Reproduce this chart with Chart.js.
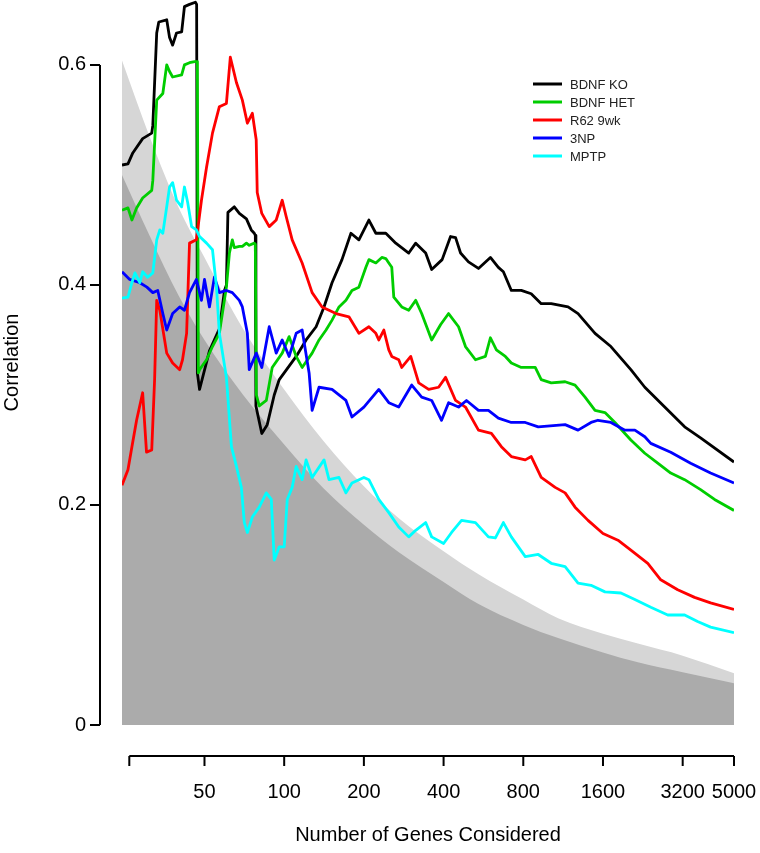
<!DOCTYPE html>
<html>
<head>
<meta charset="utf-8">
<script src="https://cdn.jsdelivr.net/npm/chart.js@4/dist/chart.umd.min.js"></script>
<style>
  html, body { margin: 0; padding: 0; background: #fff; }
  #wrap { width: 760px; height: 853px; position: relative; }
</style>
</head>
<body>
<div id="wrap"><canvas id="myChart"></canvas></div>
<script>
// axis ticks
var xTicks = [26, 50, 100, 200, 400, 800, 1600, 3200, 5000];
var xTickLabels = ["", "50", "100", "200", "400", "800", "1600", "3200", "5000"];
var yTicks = [0, 0.2, 0.4, 0.6];
var yTickLabels = ["0", "0.2", "0.4", "0.6"];

// null bands (genes, correlation)
var bandGenes = [24.4, 31, 40, 50, 70, 100, 141, 200, 271, 400, 542, 800, 1083, 1600, 2167, 3200, 5000];
var lightBand = [0.604, 0.535, 0.47, 0.425, 0.36, 0.305, 0.258, 0.217, 0.188, 0.158, 0.137, 0.114, 0.097, 0.083, 0.074, 0.063, 0.047];
var darkBand = [0.50, 0.445, 0.39, 0.35, 0.30, 0.255, 0.215, 0.182, 0.157, 0.13, 0.11, 0.091, 0.079, 0.066, 0.057, 0.048, 0.038];

// series: [genes considered, correlation]
var seriesNames = ["BDNF KO", "BDNF HET", "R62 9wk", "3NP", "MPTP"];
var seriesColors = ["#000000", "#00cd00", "#ff0000", "#0000ff", "#00ffff"];

var bdnfKO = [[24.4,0.509],[25.7,0.51],[26.8,0.52],[29.2,0.533],[31.6,0.538],[31.9,0.545],[33,0.629],[33.6,0.639],
  [36,0.641],[36.9,0.625],[37.9,0.618],[39.2,0.629],[41,0.63],[42,0.653],[43.9,0.655],[46.2,0.657],[46.7,0.655],
  [47,0.32],[47.9,0.305],[52.2,0.34],[56.9,0.36],[59.5,0.395],[60.5,0.40],[61.3,0.466],[64.8,0.471],[67.7,0.465],
  [72,0.46],[75.1,0.45],[77.1,0.447],[77.8,0.445],[78.2,0.29],[82.3,0.265],[86.3,0.273],[91.7,0.30],[95.8,0.314],
  [111,0.335],[121,0.35],[132,0.362],[141.4,0.38],[151.6,0.402],[165.3,0.423],[178.7,0.447],[191.5,0.441],
  [208.9,0.459],[221.9,0.447],[242,0.447],[263.9,0.438],[295.4,0.429],[313.9,0.438],[342.3,0.429],[360.6,0.414],
  [395,0.423],[425,0.444],[444,0.443],[463.6,0.429],[496.7,0.421],[541.7,0.415],[601,0.425],[644,0.416],
  [672.8,0.412],[721,0.395],[786,0.395],[857,0.392],[935,0.383],[1020,0.383],[1181,0.38],[1288,0.374],
  [1493,0.356],[1714,0.344],[2039,0.323],[2302,0.307],[2737,0.289],[3255,0.271],[3739,0.261],[5000,0.239]];

var bdnfHET = [[24.4,0.468],[25.7,0.47],[26.6,0.459],[27.7,0.47],[29.2,0.479],[31.6,0.486],[31.9,0.495],[33,0.568],
  [33.9,0.571],[34.8,0.574],[36,0.60],[36.9,0.594],[37.9,0.589],[41,0.591],[42,0.60],[43.9,0.602],[45.9,0.603],
  [47,0.603],[47.4,0.32],[47.9,0.323],[50.9,0.332],[53.6,0.344],[56.9,0.356],[60.5,0.398],[62.1,0.429],[63.7,0.441],
  [64.8,0.434],[67.7,0.435],[69.5,0.435],[72,0.438],[73.8,0.436],[77.1,0.438],[77.8,0.437],[78.5,0.30],[80.5,0.29],
  [85.6,0.295],[90.1,0.325],[98.3,0.338],[104.4,0.353],[111,0.335],[116.9,0.325],[127.5,0.338],[135.4,0.35],
  [143.9,0.359],[151.6,0.368],[161.1,0.38],[171.1,0.386],[180.3,0.395],[191.5,0.398],[203.5,0.416],[208.9,0.423],
  [221.9,0.42],[233.8,0.425],[242,0.424],[248.4,0.42],[254.9,0.416],[259.4,0.389],[278,0.38],[295.4,0.377],
  [313.9,0.386],[330.6,0.374],[360.6,0.35],[390,0.364],[417.8,0.374],[455.6,0.362],[483.9,0.344],[527.8,0.332],
  [575.5,0.335],[601,0.352],[633.1,0.341],[684.5,0.335],[721,0.329],[786,0.325],[887.7,0.325],[935,0.314],
  [1020,0.311],[1151,0.312],[1255,0.309],[1369,0.298],[1493,0.286],[1628,0.284],[1775,0.275],[1936,0.265],
  [2039,0.259],[2302,0.247],[2576,0.238],[2884,0.229],[3255,0.223],[3739,0.214],[4222,0.205],[5000,0.195]];

var r62 = [[24.4,0.218],[25.7,0.232],[26.6,0.253],[27.7,0.277],[29.2,0.302],[30.2,0.248],[31.6,0.25],[32.4,0.314],
  [33,0.386],[33.9,0.377],[36,0.338],[37.9,0.329],[40.3,0.323],[41.3,0.332],[42.8,0.356],[43.9,0.438],[46.6,0.441],
  [48.7,0.477],[50.9,0.507],[53.6,0.538],[56.9,0.562],[60.5,0.565],[62.6,0.607],[66,0.584],[69.5,0.568],
  [72.6,0.547],[75.8,0.556],[78.4,0.532],[79.1,0.484],[82.3,0.465],[87.8,0.453],[93.3,0.459],[98.3,0.477],
  [101.8,0.462],[107.2,0.441],[116.9,0.42],[127.5,0.393],[139,0.38],[156.9,0.374],[175.6,0.371],[191.5,0.356],
  [208.9,0.362],[221.9,0.356],[227.7,0.35],[237.9,0.359],[248.4,0.341],[254.9,0.335],[270.8,0.332],[278,0.325],
  [300.6,0.335],[322.2,0.311],[351.3,0.305],[383.1,0.307],[407,0.316],[443.9,0.295],[483.9,0.289],[541.7,0.268],
  [606.3,0.265],[661.2,0.253],[721,0.244],[814,0.241],[857.4,0.244],[935,0.225],[1055.6,0.216],[1151,0.211],
  [1255,0.198],[1405,0.186],[1600,0.174],[1822,0.168],[2039,0.159],[2362,0.147],[2644,0.132],[3064,0.123],
  [3549,0.116],[4078,0.111],[5000,0.105]];

var np3 = [[24.4,0.412],[26.1,0.405],[28.5,0.402],[30.3,0.398],[31.9,0.393],[33.3,0.395],[34.8,0.374],[36,0.359],
  [37.9,0.374],[40.3,0.38],[42,0.377],[43.9,0.393],[46.6,0.405],[48.7,0.386],[50,0.405],[52.2,0.38],[54.5,0.407],
  [56.9,0.393],[60.5,0.395],[63.7,0.393],[67.7,0.386],[69.5,0.38],[72.6,0.356],[73.8,0.323],[78.5,0.338],
  [82.3,0.325],[87.8,0.362],[93.3,0.338],[98.3,0.35],[104.4,0.335],[111,0.356],[116.9,0.359],[124.2,0.32],
  [127.5,0.286],[135.4,0.307],[151.6,0.305],[171.1,0.295],[180.3,0.28],[200,0.289],[227.7,0.305],[248.4,0.293],
  [270.8,0.289],[303.2,0.309],[330.6,0.298],[360.6,0.295],[393,0.277],[417.8,0.293],[455.6,0.289],[488.1,0.295],
  [541.7,0.286],[590.7,0.286],[644.2,0.279],[721,0.275],[814,0.275],[911,0.271],[1151,0.273],[1288,0.268],
  [1442,0.275],[1532,0.277],[1714,0.275],[1936,0.268],[2111,0.268],[2302,0.262],[2425,0.256],[2884,0.248],
  [3429,0.238],[4078,0.229],[5000,0.22]];

var mptp = [[24.4,0.388],[25.7,0.389],[26.6,0.402],[27.3,0.411],[28.5,0.402],[29.2,0.412],[30.5,0.407],[31.9,0.411],
  [33,0.441],[33.9,0.45],[34.8,0.447],[36,0.471],[36.9,0.489],[37.9,0.493],[39.2,0.477],[41,0.471],[42,0.489],
  [43.2,0.475],[44.7,0.453],[46.6,0.45],[47.9,0.444],[50.9,0.438],[53.6,0.432],[55.5,0.398],[56.9,0.356],
  [60.5,0.316],[63.2,0.253],[66,0.235],[68.9,0.216],[70.7,0.184],[72.6,0.175],[75.8,0.189],[80.5,0.198],
  [85.6,0.211],[89.4,0.205],[91.7,0.15],[95.8,0.162],[100,0.162],[102.7,0.205],[107.2,0.216],[111,0.235],
  [116.9,0.223],[121,0.241],[127.5,0.225],[141.4,0.241],[147.7,0.223],[161.1,0.225],[171.1,0.211],[180.3,0.22],
  [200,0.225],[208.9,0.223],[227.7,0.205],[248.4,0.193],[270.8,0.18],[295.4,0.171],[313.9,0.177],[342.3,0.184],
  [360.6,0.171],[400,0.165],[428.8,0.175],[467.6,0.186],[527.8,0.184],[590.7,0.171],[627.7,0.17],[672.8,0.184],
  [721,0.171],[814,0.153],[911,0.155],[1020,0.147],[1151,0.144],[1288,0.129],[1442,0.127],[1628,0.121],
  [1870,0.12],[2111,0.114],[2425,0.107],[2810,0.10],[3255,0.10],[3643,0.094],[4078,0.089],[5000,0.084]];

var seriesData = [bdnfKO, bdnfHET, r62, np3, mptp];

Chart.defaults.font.family = '"Liberation Sans", Arial, sans-serif';
Chart.defaults.color = "#000";

function bandPoints(vals) {
    var pts = [];
    for (var i = 0; i < bandGenes.length; i++) {
        pts.push([bandGenes[i], vals[i]]);
    }
    return pts;
}

var datasets = [];
for (var i = 0; i < seriesData.length; i++) {
    datasets.push({
        label: seriesNames[i],
        data: seriesData[i],
        borderColor: seriesColors[i],
        borderWidth: 2.8,
        pointRadius: 0,
        fill: false,
        tension: 0,
        order: 5 - i
    });
}
datasets.push({
    label: "dark",
    data: bandPoints(darkBand),
    borderWidth: 0,
    backgroundColor: "#ababab",
    pointRadius: 0,
    fill: "origin",
    cubicInterpolationMode: "monotone",
    order: 20
});
datasets.push({
    label: "light",
    data: bandPoints(lightBand),
    borderWidth: 0,
    backgroundColor: "#d6d6d6",
    pointRadius: 0,
    fill: "origin",
    cubicInterpolationMode: "monotone",
    order: 21
});

// R style detached axes + legend
var rAxes = {
    id: "rAxes",
    afterDraw: function(chart) {
        var ctx = chart.ctx;
        var xs = chart.scales.x, ys = chart.scales.y;
        ctx.save();
        ctx.strokeStyle = "#000";
        ctx.lineWidth = 2;
        ctx.beginPath();
        ctx.moveTo(100, ys.getPixelForValue(yTicks[0]));
        ctx.lineTo(100, ys.getPixelForValue(yTicks[yTicks.length - 1]));
        for (var i = 0; i < yTicks.length; i++) {
            var py = ys.getPixelForValue(yTicks[i]);
            ctx.moveTo(90, py);
            ctx.lineTo(100, py);
        }
        var axY = 756;
        ctx.moveTo(xs.getPixelForValue(xTicks[0]), axY);
        ctx.lineTo(xs.getPixelForValue(xTicks[xTicks.length - 1]), axY);
        for (var j = 0; j < xTicks.length; j++) {
            var px = xs.getPixelForValue(xTicks[j]);
            ctx.moveTo(px, axY);
            ctx.lineTo(px, axY + 10);
        }
        ctx.stroke();

        ctx.font = '13px "Liberation Sans", Arial, sans-serif';
        ctx.textBaseline = "middle";
        ctx.fillStyle = "#222";
        ctx.lineWidth = 3;
        for (var k = 0; k < seriesNames.length; k++) {
            var ly = 84 + k * 18;
            ctx.strokeStyle = seriesColors[k];
            ctx.beginPath();
            ctx.moveTo(533, ly);
            ctx.lineTo(562, ly);
            ctx.stroke();
            ctx.fillText(seriesNames[k], 570, ly + 1);
        }
        ctx.restore();
    }
};

new Chart(document.getElementById("myChart"), {
    type: "line",
    data: { datasets: datasets },
    plugins: [rAxes],
    options: {
        responsive: true,
        maintainAspectRatio: false,
        animation: false,
        layout: { padding: { top: 0, right: 26, left: 0, bottom: 0 } },
        plugins: {
            legend: { display: false },
            tooltip: { enabled: false }
        },
        elements: { line: { borderJoinStyle: "round" } },
        scales: {
            x: {
                type: "logarithmic",
                min: 24.4,
                max: 5000,
                grid: { display: false, drawTicks: false },
                border: { display: false },
                afterBuildTicks: function(s) {
                    s.ticks = xTicks.map(function(v) { return { value: v }; });
                },
                afterFit: function(s) {
                    s.height = 128;
                    s.paddingLeft = 0;
                    s.paddingRight = 0;
                },
                ticks: {
                    font: { size: 20 },
                    color: "#000",
                    padding: 55,
                    maxRotation: 0,
                    autoSkip: false,
                    callback: function(v) {
                        var i = xTicks.indexOf(v);
                        return i >= 0 ? xTickLabels[i] : "";
                    }
                },
                title: {
                    display: true,
                    text: "Number of Genes Considered",
                    font: { size: 20 },
                    color: "#000",
                    padding: { top: 6, bottom: 6 }
                }
            },
            y: {
                min: 0,
                max: 0.659,
                grid: { display: false, drawTicks: false },
                border: { display: false },
                afterBuildTicks: function(s) {
                    s.ticks = yTicks.map(function(v) { return { value: v }; });
                },
                afterFit: function(s) {
                    s.width = 122;
                    s.paddingTop = 0;
                    s.paddingBottom = 0;
                },
                ticks: {
                    font: { size: 20 },
                    color: "#000",
                    padding: 36,
                    callback: function(v) {
                        var i = yTicks.indexOf(v);
                        return i >= 0 ? yTickLabels[i] : "";
                    }
                },
                title: {
                    display: true,
                    text: "Correlation",
                    font: { size: 20 },
                    color: "#000",
                    padding: 0
                }
            }
        }
    }
});
</script>
</body>
</html>
